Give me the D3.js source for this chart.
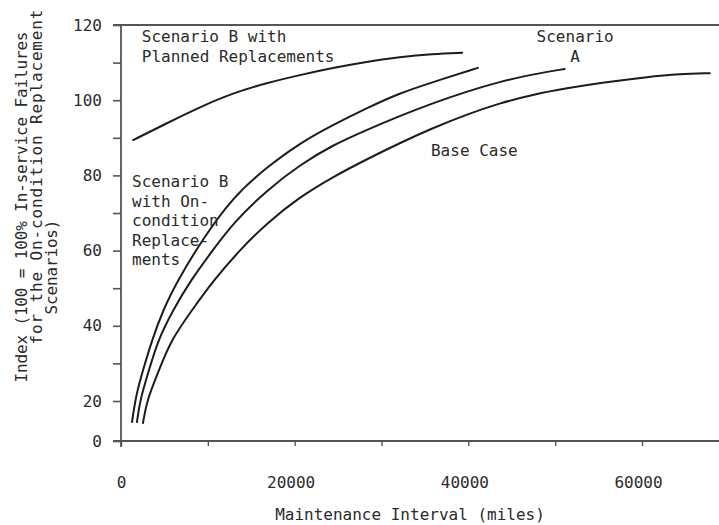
<!DOCTYPE html>
<html>
<head>
<meta charset="utf-8">
<script src="https://cdn.jsdelivr.net/npm/d3@7"></script>
<style>
    body { margin: 0; background: #fff; }
    svg { display: block; }
    text { font-family: "DejaVu Sans Mono", "Liberation Mono", monospace; font-size: 16px; fill: #2a2a2a; }
</style>
</head>
<body>
<svg id="chart" width="719" height="525"></svg>
<script>
//Values (miles, index)
const planned = [[1400, 89.4], [5300, 93.9], [9100, 98.2], [12900, 101.9], [16800, 104.6], [20600, 106.7],
    [24400, 108.6], [28300, 110.2], [32100, 111.5], [35900, 112.3], [39300, 112.6]]
const onCondition = [[1270, 9.5], [1730, 21.6], [2530, 28.2], [3570, 36.2], [4840, 44.2], [6560, 52.2],
    [9330, 62.8], [12900, 74.3], [16800, 82.2], [20600, 88.6], [24400, 93.4], [28300, 97.9],
    [32100, 101.9], [35900, 104.8], [41100, 108.6]]
const scenarioA = [[1840, 9.5], [2190, 20.3], [3220, 28.2], [4260, 36.2], [5990, 44.2], [8060, 52.2],
    [10600, 60.2], [12900, 67.3], [16800, 76.1], [20600, 82.8], [24400, 88.1], [28300, 92.1],
    [32100, 95.8], [35900, 99.2], [39800, 102.3], [43600, 104.9], [47400, 106.9], [51100, 108.3]]
const baseCase = [[2530, 9.0], [2990, 20.3], [4380, 28.2], [5760, 36.2], [8180, 44.2], [10700, 52.2],
    [13700, 60.2], [16800, 67.3], [20600, 74.3], [24400, 79.6], [28300, 84.3], [32100, 88.6],
    [35900, 92.6], [39800, 96.2], [43600, 99.2], [47400, 101.5], [51400, 103.2], [55200, 104.6],
    [60600, 106.2], [64400, 107.0], [67800, 107.2]]

const xTicks = [0, 10000, 20000, 30000, 40000, 50000, 60000]
const xTickLabels = [0, 20000, 40000, 60000]
const yTicks = [0, 20, 30, 40, 50, 60, 70, 80, 90, 100, 110, 120]
const yTickLabels = [0, 20, 40, 60, 80, 100, 120]

const yTitle = ["Index (100 = 100% In-service Failures", "for the On-condition Replacement", "Scenarios)"]
const xTitle = "Maintenance Interval (miles)"

//Curve labels, anchored in data units
const curveLabels = [
    {lines: ["Scenario B with", "Planned Replacements"], at: [2400, 115.5], anchor: "start", step: 20},
    {lines: ["Scenario B", "with On-", "condition", "Replace-", "ments"], at: [1270, 76.9], anchor: "start", step: 19.5},
    {lines: ["Scenario", "A"], at: [52300, 115.5], anchor: "middle", step: 20},
    {lines: ["Base Case"], at: [35700, 85.2], anchor: "start", step: 20}
]

const width = 719
const svg = d3.select("#chart")

//The value axis is broken: 0..20 is squeezed below the rest
const x = d3.scaleLinear().domain([0, 60000]).range([121, 642])
const y = d3.scaleLinear().domain([0, 20, 120]).range([441, 401, 25])

const axisColor = "#555"

//Frame lines: left axis, bottom axis, top line at 120
svg.append("line").attr("x1", x(0)).attr("x2", x(0)).attr("y1", y(120)).attr("y2", y(0) + 6)
    .attr("stroke", axisColor).attr("stroke-width", 1.8)
svg.append("line").attr("x1", x(0) - 8).attr("x2", width).attr("y1", y(0)).attr("y2", y(0))
    .attr("stroke", axisColor).attr("stroke-width", 1.8)
svg.append("line").attr("x1", x(0) - 8).attr("x2", width).attr("y1", y(120)).attr("y2", y(120))
    .attr("stroke", axisColor).attr("stroke-width", 1.8)

//Y axis
const yAxis = d3.axisLeft(y).tickValues(yTicks).tickSize(8).tickPadding(11)
    .tickFormat(d => yTickLabels.includes(d) ? d : "")
const gy = svg.append("g").attr("transform", `translate(${x(0)},0)`).call(yAxis)
gy.select(".domain").remove()
gy.selectAll(".tick line").attr("stroke", axisColor).attr("stroke-width", 1.6)
gy.selectAll(".tick text").attr("fill", "#2a2a2a").style("font-size", "16px")
    .style("font-family", "'DejaVu Sans Mono', monospace")

//X axis
const xAxis = d3.axisBottom(x).tickValues(xTicks).tickSize(5).tickPadding(31)
    .tickFormat(d => xTickLabels.includes(d) ? d : "")
const gx = svg.append("g").attr("transform", `translate(0,${y(0)})`).call(xAxis)
gx.select(".domain").remove()
gx.selectAll(".tick line").attr("stroke", axisColor).attr("stroke-width", 1.4)
gx.selectAll(".tick text").attr("fill", "#2a2a2a").attr("dx", d => d === 0 ? 0 : "-0.25em")
    .style("font-size", "16px").style("font-family", "'DejaVu Sans Mono', monospace")

//Curves (smoothed, the hand-read points are a bit noisy)
const line = d3.line().x(d => x(d[0])).y(d => y(d[1])).curve(d3.curveBasis)
const series = [planned, onCondition, scenarioA, baseCase]
svg.selectAll("path.curve").data(series).enter().append("path")
    .attr("class", "curve")
    .attr("d", line)
    .attr("fill", "none")
    .attr("stroke", "#1c1c1c")
    .attr("stroke-width", 2)
    .attr("stroke-linecap", "round")

//Curve labels
curveLabels.forEach(l => {
    const t = svg.append("text")
        .attr("x", x(l.at[0]))
        .attr("y", y(l.at[1]))
        .attr("text-anchor", l.anchor)
    l.lines.forEach((s, i) => {
        t.append("tspan").attr("x", x(l.at[0])).attr("dy", i === 0 ? 0 : l.step).text(s)
    })
})

//Axis titles
svg.append("text").attr("x", 410).attr("y", 520).attr("text-anchor", "middle").text(xTitle)

const yTitlePos = [{c: 207, b: 27, len: 351}, {c: 177, b: 42, len: 335}, {c: 267, b: 57, len: 95}]
yTitle.forEach((s, i) => {
    svg.append("text")
        .attr("transform", "rotate(-90)")
        .attr("x", -yTitlePos[i].c)
        .attr("y", yTitlePos[i].b)
        .attr("text-anchor", "middle")
        .attr("textLength", yTitlePos[i].len)
        .attr("lengthAdjust", "spacing")
        .text(s)
})
</script>
</body>
</html>
